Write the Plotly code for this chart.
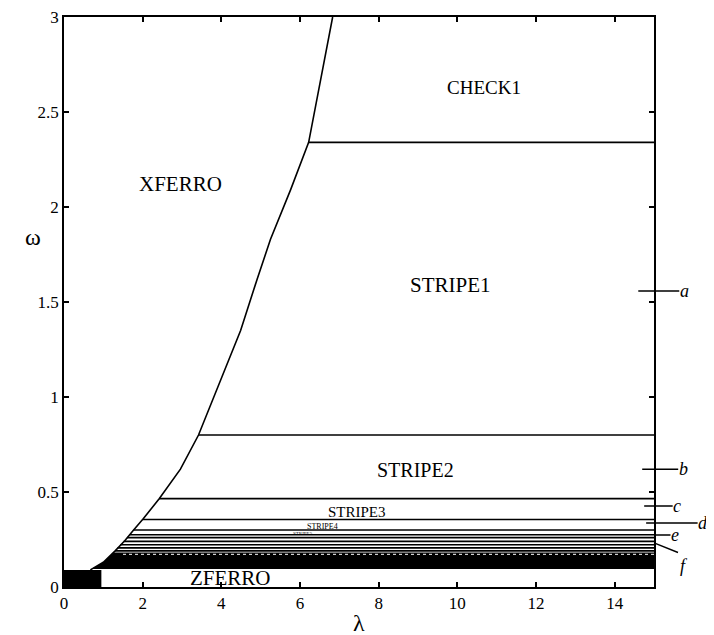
import plotly.graph_objects as go

# Phase boundary (lambda, omega)
boundary_lambda = [0.67, 1.0, 1.3, 1.55, 1.77, 2.02, 2.42, 2.96, 3.42, 4.06, 4.49, 4.91, 5.25, 5.76, 6.22, 6.83]
boundary_omega = [0.09, 0.13, 0.19, 0.245, 0.30, 0.36, 0.465, 0.62, 0.80, 1.125, 1.35, 1.62, 1.83, 2.09, 2.34, 3.0]

# Horizontal phase lines: omega level and starting lambda (on the boundary)
stripe_omega = [2.34, 0.80, 0.465, 0.355, 0.30, 0.275, 0.26, 0.24, 0.222, 0.206, 0.19]
stripe_lambda_start = [6.22, 3.42, 2.42, 2.0, 1.77, 1.66, 1.6, 1.52, 1.43, 1.36, 1.3]
LAMBDA_MAX = 15

# Dense (black) band of many stripe phases
band_lambda = [0.7, 1.0, 1.27, 15, 15]
band_omega = [0.095, 0.13, 0.182, 0.182, 0.095]

# Small black square at the origin
square_lambda = [0, 0.95, 0.95, 0]
square_omega = [0, 0, 0.09, 0.09]

# Region labels
region_text = ["CHECK1", "XFERRO", "STRIPE1", "STRIPE2", "STRIPE3", "STRIPE4", "STRIPE5", "ZFERRO"]
region_lambda = [10.67, 2.96, 9.83, 8.94, 7.46, 6.58, 6.07, 4.24]
region_omega = [2.63, 2.12, 1.59, 0.616, 0.395, 0.316, 0.282, 0.047]
region_size = [19, 21, 21, 20, 15, 8, 5, 21]

# Marker letters on the right edge
mark_text = ["a", "b", "c", "d", "e"]
mark_lambda = [14.6, 14.7, 14.75, 14.8, 15.0]
mark_omega = [1.558, 0.62, 0.426, 0.337, 0.274]
mark_ax = [46, 41, 33, 57, 21]
# marker "f": diagonal pointer from the right edge
f_lambda = 15.0
f_omega = 0.232
f_ax = 25
f_ay = 10

x_ticks = [0, 2, 4, 6, 8, 10, 12, 14]
y_ticks = [0, 0.5, 1, 1.5, 2, 2.5, 3]

SERIF = "Liberation Serif"

fig = go.Figure()

fig.add_trace(go.Scatter(x=band_lambda, y=band_omega, fill="toself", fillcolor="black",
                         mode="lines", line=dict(width=0), hoverinfo="skip", showlegend=False))
fig.add_trace(go.Scatter(x=square_lambda, y=square_omega, fill="toself", fillcolor="black",
                         mode="lines", line=dict(width=0), hoverinfo="skip", showlegend=False))
# texture line in band
fig.add_trace(go.Scatter(x=[1.5, LAMBDA_MAX], y=[0.172, 0.172], mode="lines",
                         line=dict(color="white", width=1, dash="dot"), hoverinfo="skip", showlegend=False))

for w, l0 in zip(stripe_omega, stripe_lambda_start):
    fig.add_trace(go.Scatter(x=[l0, LAMBDA_MAX], y=[w, w], mode="lines",
                             line=dict(color="black", width=1.6), hoverinfo="skip", showlegend=False))

fig.add_trace(go.Scatter(x=boundary_lambda, y=boundary_omega, mode="lines",
                         line=dict(color="black", width=1.6),
                         hoverinfo="skip", showlegend=False))

annotations = []
for t, lx, wy, s in zip(region_text, region_lambda, region_omega, region_size):
    annotations.append(dict(x=lx, y=wy, xref="x", yref="y", text=t, showarrow=False,
                            font=dict(family=SERIF, size=s, color="black")))

for t, lx, wy, ax in zip(mark_text, mark_lambda, mark_omega, mark_ax):
    annotations.append(dict(x=lx, y=wy, xref="x", yref="y", text="<i>" + t + "</i>",
                            showarrow=True, arrowhead=0, arrowwidth=1.4, arrowcolor="black",
                            ax=ax, ay=0, standoff=0, borderpad=0,
                            font=dict(family=SERIF, size=18, color="black")))

# f pointer: line only, then the letter below its end
annotations.append(dict(x=f_lambda, y=f_omega, xref="x", yref="y", text=" ",
                        showarrow=True, arrowhead=0, arrowwidth=1.4, arrowcolor="black",
                        ax=f_ax, ay=f_ay, standoff=0, borderpad=0,
                        font=dict(family=SERIF, size=2, color="black")))
annotations.append(dict(x=f_lambda, y=f_omega, xref="x", yref="y", text="<i>f</i>",
                        showarrow=False, xshift=f_ax + 5, yshift=-(f_ay + 13),
                        font=dict(family=SERIF, size=18, color="black")))

annotations.append(dict(x=-0.07, y=1.84, xref="paper", yref="y", text="ω", showarrow=False,
                        font=dict(family=SERIF, size=24, color="black")))
annotations.append(dict(x=0.5, y=-0.064, xref="paper", yref="paper", text="λ", showarrow=False,
                        yanchor="middle", font=dict(family=SERIF, size=24, color="black")))

# page body has an 8px default margin, so the figure is sized to fit the window
fig.update_layout(
    width=706, height=627,
    margin=dict(l=56, r=60, t=9, b=48, autoexpand=False),
    plot_bgcolor="white", paper_bgcolor="white",
    annotations=annotations,
    xaxis=dict(range=[0, 15], tickvals=x_ticks, showgrid=False, zeroline=False, automargin=False,
               showline=True, linecolor="black", linewidth=1.5, mirror="ticks",
               ticks="inside", ticklen=5, tickwidth=1.5, tickcolor="black",
               ticklabeloverflow="allow",
               tickfont=dict(family=SERIF, size=17, color="black")),
    yaxis=dict(range=[0, 3], tickvals=y_ticks, showgrid=False, zeroline=False, automargin=False,
               showline=True, linecolor="black", linewidth=1.5, mirror="ticks",
               ticks="inside", ticklen=5, tickwidth=1.5, tickcolor="black",
               ticklabeloverflow="allow",
               tickfont=dict(family=SERIF, size=17, color="black")),
)

fig.write_html("out.html")
